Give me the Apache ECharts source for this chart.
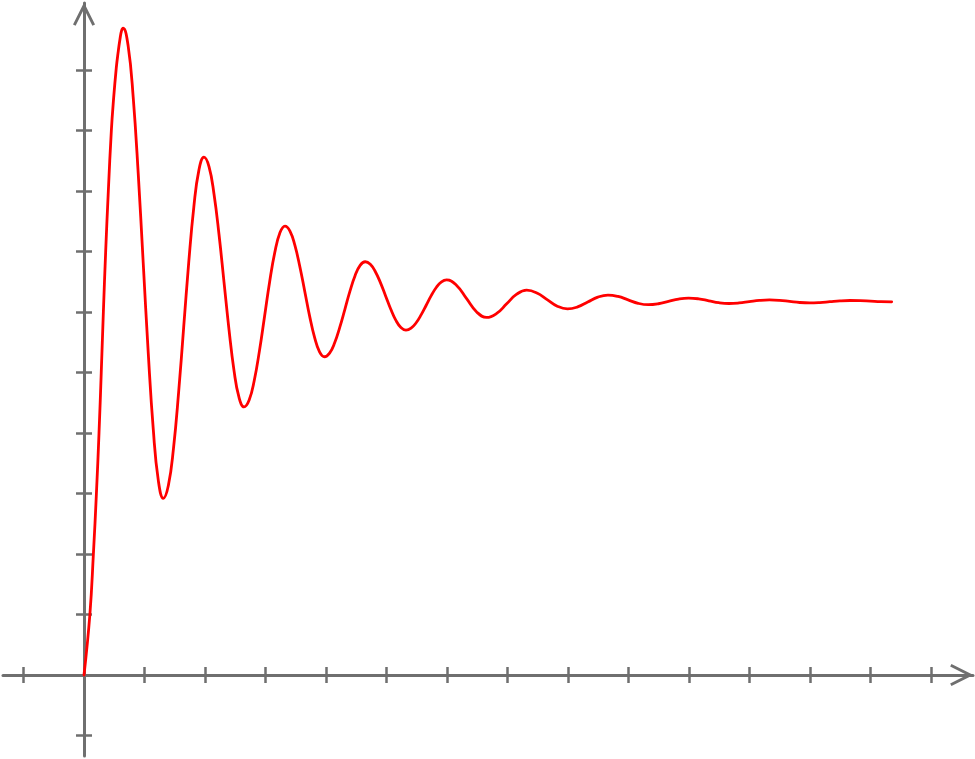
<!DOCTYPE html>
<html>
<head>
<meta charset="utf-8">
<script src="https://cdn.jsdelivr.net/npm/echarts@6/dist/echarts.min.js"></script>
<style>
html,body{margin:0;padding:0;background:#ffffff;}
#chart{width:975px;height:759px;}
</style>
</head>
<body>
<div id="chart"></div>
<script>
// ---- data read (estimated) from the reference picture ----
const tValues = [
  0, 0.097, 0.155, 0.205, 0.248, 0.285, 0.32, 0.358, 0.402, 0.452, 0.487, 0.533, 0.565, 0.593, 0.62, 0.647,
  0.73, 0.813, 0.896, 0.979, 1.062, 1.145, 1.228, 1.311,
  1.395, 1.479, 1.563, 1.647, 1.731, 1.815, 1.899, 1.983,
  2.066, 2.148, 2.231, 2.314, 2.397, 2.479, 2.562, 2.645,
  2.73, 2.814, 2.899, 2.984, 3.068, 3.153, 3.237, 3.322,
  3.404, 3.485, 3.567, 3.649, 3.73, 3.812, 3.893, 3.975,
  4.059, 4.143, 4.227, 4.312, 4.396, 4.48, 4.564, 4.648,
  4.732, 4.816, 4.901, 4.985, 5.069, 5.153, 5.238, 5.322,
  5.406, 5.49, 5.574, 5.658, 5.741, 5.825, 5.909, 5.993,
  6.159, 6.324, 6.49, 6.655,
  6.821, 6.986, 7.152, 7.317,
  7.486, 7.655, 7.823, 7.992,
  8.159, 8.326, 8.493, 8.66,
  8.827, 8.993, 9.16, 9.327,
  9.494, 9.66, 9.827, 9.993,
  10.16, 10.327, 10.493, 10.66,
  10.828, 10.995, 11.163, 11.33,
  11.496, 11.663, 11.829, 11.995,
  12.161, 12.328, 12.494, 12.66,
  12.83, 13.0, 13.17, 13.35];
const yValues = [
  0, 1.0, 2.0, 3.0, 4.0, 5.0, 6.0, 7.0, 8.0, 9.0, 9.5, 10.03, 10.3, 10.5, 10.645, 10.69,
  10.394, 9.553, 8.291, 6.805, 5.319, 4.058, 3.216, 2.92,
  3.135, 3.746, 4.661, 5.74, 6.819, 7.734, 8.345, 8.56,
  8.403, 7.955, 7.285, 6.495, 5.705, 5.035, 4.587, 4.43,
  4.544, 4.868, 5.353, 5.925, 6.497, 6.982, 7.306, 7.42,
  7.338, 7.104, 6.753, 6.34, 5.927, 5.576, 5.342, 5.26,
  5.32, 5.49, 5.745, 6.045, 6.345, 6.6, 6.77, 6.83,
  6.787, 6.665, 6.481, 6.265, 6.049, 5.865, 5.743, 5.7,
  5.732, 5.822, 5.956, 6.115, 6.274, 6.409, 6.498, 6.53,
  6.439, 6.22, 6.001, 5.91,
  5.976, 6.135, 6.294, 6.36,
  6.315, 6.205, 6.095, 6.05,
  6.084, 6.165, 6.246, 6.28,
  6.257, 6.2, 6.143, 6.12,
  6.136, 6.175, 6.214, 6.23,
  6.217, 6.185, 6.153, 6.14,
  6.149, 6.17, 6.191, 6.2,
  6.193, 6.175, 6.157, 6.15,
  6.156, 6.17, 6.184, 6.19,
  6.187, 6.179, 6.171, 6.168];
const xTickValues = [-1, 1, 2, 3, 4, 5, 6, 7, 8, 9, 10, 11, 12, 13, 14];
const yTickValues = [-1, 1, 2, 3, 4, 5, 6, 7, 8, 9, 10];
const xRange = [-1.339, 14.694];
const yRange = [-1.339, 11.107];

// ---- styling ----
const axisColor = '#6f6f6f';
const curveColor = '#ff0000';
const chevron = 'path://M11,0 L22,22 L19.4,23.3 L11,6.5 L2.6,23.3 L0,22 Z';
const arrowSize = [22, 23.3];

function axisPair(dim, range, ticks) {
  const pos = dim === 'x' ? 'bottom' : 'left';
  const common = {
    type: 'value', min: range[0], max: range[1], position: pos,
    axisLabel: { show: false }, splitLine: { show: false }
  };
  return [
    Object.assign({}, common, {
      axisLine: {
        show: true, onZero: true,
        lineStyle: { color: axisColor, width: 3 },
        symbol: ['none', chevron], symbolSize: arrowSize, symbolOffset: [0, -11.2]
      },
      axisTick: { show: true, inside: false, length: 8, customValues: ticks,
        lineStyle: { color: axisColor, width: 2.5 } }
    }),
    Object.assign({}, common, {
      axisLine: { show: true, onZero: true, lineStyle: { color: axisColor, width: 3, opacity: 0 } },
      axisTick: { show: true, inside: true, length: 8, customValues: ticks,
        lineStyle: { color: axisColor, width: 2.5 } }
    })
  ];
}

const chart = echarts.init(document.getElementById('chart'), null, { renderer: 'canvas' });
chart.setOption({
  animation: false,
  backgroundColor: '#ffffff',
  grid: { left: 3, right: 2, top: 3, bottom: 3, containLabel: false, outerBoundsMode: 'none' },
  xAxis: axisPair('x', xRange, xTickValues),
  yAxis: axisPair('y', yRange, yTickValues),
  series: [{
    type: 'line',
    xAxisIndex: 0, yAxisIndex: 0,
    data: tValues.map((t, i) => [t, yValues[i]]),
    smooth: 0.45,
    showSymbol: false,
    symbol: 'none',
    clip: false,
    lineStyle: { color: curveColor, width: 2.8, cap: 'round', join: 'round' },
    z: 5
  }]
});
</script>
</body>
</html>
